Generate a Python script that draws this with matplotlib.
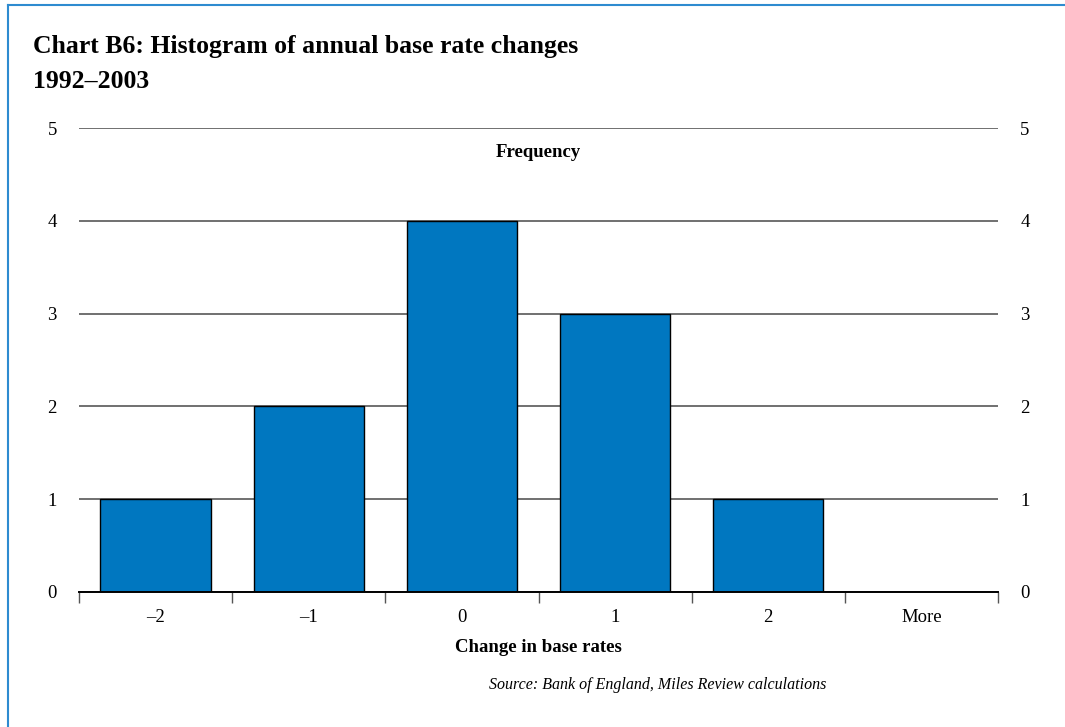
import matplotlib
matplotlib.use("Agg")
import matplotlib.pyplot as plt
from matplotlib.lines import Line2D

plt.rcParams['font.family'] = ['Liberation Serif', 'DejaVu Serif']

# data
categories = ["\u20132", "\u20131", "0", "1", "2", "More"]
frequency = [1, 2, 4, 3, 1, 0]
y_ticks = [0, 1, 2, 3, 4, 5]

bar_color = "#0077C0"
border_color = "#2E8BD0"

fig = plt.figure(figsize=(10.65, 7.27), dpi=100)
ax = fig.add_axes([0.0742, 0.1857, 0.8629, 0.6382])

x = list(range(len(categories)))
ax.bar(x, frequency, width=0.72, color=bar_color, edgecolor="black",
       linewidth=1.0, zorder=3)

ax.set_xlim(-0.5, len(categories) - 0.5)
ax.set_ylim(0, 5)

# gridlines
ax.set_yticks(y_ticks)
ax.yaxis.grid(True, color="#707070", linewidth=1.4)
ax.set_axisbelow(True)
ax.tick_params(axis="y", length=0, pad=16, labelsize=13.5,
               labelright=True, right=False)

# x ticks: labels at centres, tick marks at the boundaries
ax.set_xticks(x)
ax.set_xticklabels(categories)
ax.tick_params(axis="x", which="major", length=0, pad=12, labelsize=13.5)
ax.set_xticks([i - 0.5 for i in range(len(categories) + 1)], minor=True)
ax.tick_params(axis="x", which="minor", length=8, width=1.0,
               color="#555555", direction="out")

for s in ["top", "left", "right"]:
    ax.spines[s].set_visible(False)
ax.spines["bottom"].set_linewidth(1.4)
ax.spines["bottom"].set_zorder(4)

ax.text(0.5, 0.948, "Frequency", transform=ax.transAxes, ha="center",
        va="center", fontsize=13.5, fontweight="bold")

fig.text(0.5057, 0.11, "Change in base rates", ha="center", va="center",
         fontsize=13.5, fontweight="bold")

fig.text(0.031, 0.952, "Chart B6: Histogram of annual base rate changes\n1992\u20132003",
         ha="left", va="top", fontsize=18.5, fontweight="bold", linespacing=1.7)

fig.text(0.776, 0.058, "Source: Bank of England, Miles Review calculations",
         ha="right", va="center", fontsize=11.5, style="italic")

# blue frame on left and top edges
fig.add_artist(Line2D([0.0075, 0.0075], [0, 0.993], transform=fig.transFigure,
                      color=border_color, linewidth=1.5))
fig.add_artist(Line2D([0.0075, 1], [0.993, 0.993], transform=fig.transFigure,
                      color=border_color, linewidth=1.5))

fig.savefig("out.png", dpi=100)
